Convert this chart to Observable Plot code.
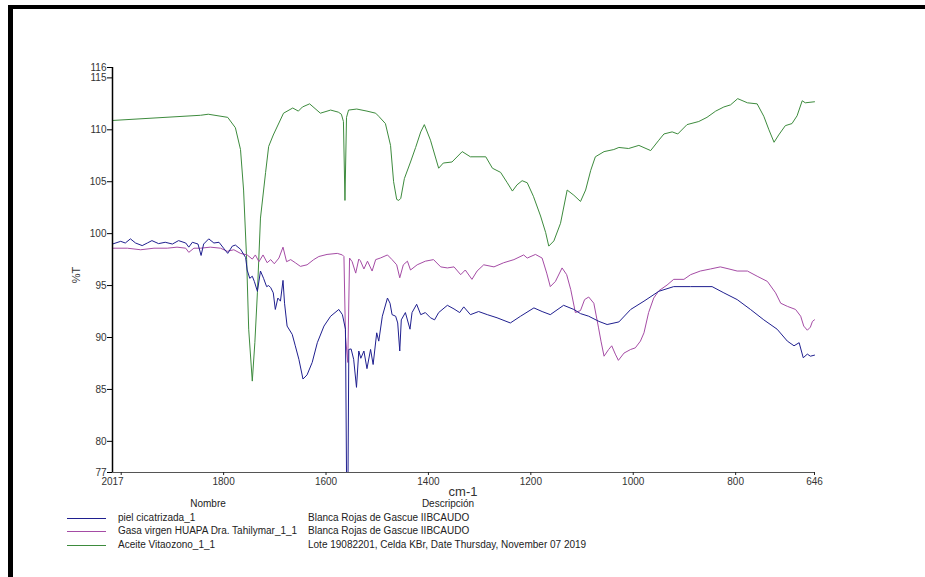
<!DOCTYPE html>
<html>
<head>
<meta charset="utf-8">
<script src="https://cdn.jsdelivr.net/npm/d3@7"></script>
<script src="https://cdn.jsdelivr.net/npm/@observablehq/plot@0.6"></script>
<style>
  html, body { margin: 0; padding: 0; background: #fff; }
  #wrap { position: relative; width: 925px; height: 577px; overflow: hidden; background: #fff;
          font-family: "Liberation Sans", Arial, sans-serif; color: #222; }
  #frame { position: absolute; left: 8px; top: 5px; width: 1000px; height: 700px;
           border-top: 4px solid #000; border-left: 5px solid #000; box-sizing: border-box; }
  #chart { position: absolute; left: 0; top: 0; }
  .lbl { position: absolute; white-space: nowrap; font-size: 10px; line-height: 12px; }
  #ylab { position: absolute; left: 66px; top: 269px; width: 20px; text-align: center;
          font-size: 11px; line-height: 12px; transform: rotate(-90deg); color: #333; }
  #xlab { position: absolute; left: 433px; top: 484px; width: 60px; text-align: center;
          font-size: 13px; line-height: 16px; color: #333; }
  .swatch { position: absolute; height: 0; border-top: 1px solid; }
</style>
</head>
<body>
<div id="wrap">
  <div id="frame"></div>
  <div id="chart"></div>
  <div id="ylab">%T</div>
  <div id="xlab">cm-1</div>
  <div id="legend"></div>
</div>
<script>
// Infrared spectra: wavenumber (cm-1) and transmittance (%T)
const pielCicatrizada = [
  [2017,99.0],[2001,99.26],[1992,99.1],[1982,99.5],[1972,99.1],[1959,98.85],[1949,99.1],[1940,99.33],
  [1927,99.04],[1914,99.17],[1900,99.0],[1888,99.33],[1874,99.1],[1868,98.7],[1861,99.17],[1850,99.0],
  [1844,97.9],[1839,99.0],[1829,99.5],[1819,99.1],[1809,99.17],[1800,98.6],[1792,98.1],[1783,98.8],
  [1777,98.9],[1767,98.5],[1757,97.7],[1754,96.5],[1749,95.7],[1744,95.9],[1740,95.4],[1734,94.45],
  [1728,96.4],[1722,95.7],[1716,94.9],[1712,95.0],[1708,94.8],[1703,94.3],[1699,92.7],[1694,93.8],
  [1689,93.5],[1684,95.5],[1681,93.3],[1676,91.1],[1666,90.3],[1660,89.2],[1653,87.9],[1645,86.0],
  [1637,86.4],[1627,87.6],[1617,89.5],[1604,91.1],[1591,92.05],[1575,92.7],[1568,92.2],[1562,90.8],
  [1560,77],[1557,77],[1555.5,88.85],[1551,88.9],[1546,87.9],[1540.5,85.2],[1536,88.7],[1532,88.0],
  [1526,88.7],[1520,87.0],[1513,88.85],[1508,87.4],[1501,90.45],[1497,89.65],[1490,92.05],[1480,93.8],
  [1475,93.3],[1471,92.2],[1464,92.05],[1460,91.4],[1456,88.7],[1453,91.7],[1445,92.4],[1436,90.8],
  [1432,92.4],[1423,93.2],[1415,92.2],[1406,92.4],[1396,91.9],[1388,91.7],[1380,92.4],[1363,93.1],
  [1350,92.75],[1339,92.4],[1331,92.95],[1318,92.2],[1302,92.5],[1285,92.2],[1266,91.9],[1240,91.4],
  [1220,92.05],[1194,92.85],[1178,92.5],[1162,92.2],[1136,93.1],[1116,92.7],[1103,92.3],[1087,92.05],
  [1067,91.55],[1051,91.25],[1028,91.5],[1005,92.7],[979,93.5],[950,94.45],[921,94.9],[888,94.9],
  [846,94.9],[823,94.3],[797,93.65],[771,92.7],[745,91.7],[719,90.8],[699,89.65],[686,89.2],
  [676,89.5],[668,88.05],[660,88.4],[654,88.2],[646,88.3]
];

const gasaVirgen = [
  [2017,98.6],[1988,98.6],[1962,98.45],[1936,98.6],[1910,98.6],[1891,98.7],[1874,98.6],[1868,98.2],
  [1858,98.6],[1845,98.6],[1826,98.7],[1806,98.6],[1793,98.3],[1780,98.45],[1767,98.1],[1754,97.95],
  [1744,97.55],[1738,97.95],[1731,97.3],[1723,97.95],[1715,97.2],[1708,97.5],[1701,97.1],[1692,97.65],
  [1684,98.7],[1677,97.3],[1669,97.5],[1660,97.2],[1650,96.85],[1637,97.0],[1624,97.5],[1614,97.8],
  [1598,98.0],[1578,98.1],[1568,97.95],[1565,97.8],[1562,90.1],[1557.5,87.6],[1554,97.65],[1549,97.3],
  [1542,96.2],[1536,97.55],[1533,97.4],[1526,96.6],[1519,97.35],[1510,96.4],[1503,97.5],[1494,97.65],
  [1480,97.95],[1471,97.5],[1462,97.0],[1456,95.75],[1449,97.0],[1441,97.35],[1435,96.5],[1422,97.0],
  [1406,97.35],[1390,97.5],[1376,96.8],[1363,96.7],[1350,96.8],[1337,96.05],[1328,96.5],[1315,95.6],
  [1305,96.4],[1292,97.0],[1272,96.8],[1253,97.2],[1233,97.5],[1214,97.95],[1207,97.65],[1191,98.0],
  [1178,97.65],[1169,96.2],[1162,94.9],[1152,95.4],[1139,96.7],[1130,96.05],[1122,94.6],[1113,92.4],
  [1103,92.6],[1095,93.65],[1087,93.9],[1077,93.3],[1068,91.0],[1063,89.65],[1057,88.2],[1048,88.85],
  [1042,89.2],[1035,88.4],[1029,87.8],[1018,88.5],[1005,88.85],[996,89.0],[986,89.65],[979,90.45],
  [970,92.4],[960,93.8],[950,94.5],[934,95.05],[921,95.6],[901,95.6],[888,96.05],[869,96.4],
  [849,96.6],[830,96.8],[813,96.6],[797,96.4],[777,96.4],[758,95.9],[738,95.4],[722,94.3],
  [712,93.3],[699,93.0],[683,92.7],[673,92.05],[667,91.1],[660,90.7],[654,91.0],[650,91.55],[646,91.7]
];

const aceiteVitaozono = [
  [2017,110.9],[1845,111.4],[1830,111.5],[1792,111.2],[1777,110.2],[1767,108.1],[1761,104.2],[1755,97.5],
  [1751,90.8],[1744,85.8],[1739,89.5],[1734,94.3],[1728,101.5],[1718,105.9],[1712,108.4],[1703,109.5],
  [1683,111.6],[1665,112.1],[1654,111.8],[1646,112.2],[1632,112.5],[1611,111.6],[1591,111.9],[1576,111.7],
  [1570,111.5],[1566,110.8],[1563,103.2],[1560,111.2],[1556,111.9],[1540,112.0],[1520,111.8],[1503,111.6],
  [1497,111.3],[1484,110.6],[1474,108.5],[1468,105.0],[1462,103.3],[1458,103.2],[1454,103.4],[1447,105.3],
  [1435,106.9],[1425,108.3],[1415,109.8],[1408,110.5],[1396,109.0],[1380,106.3],[1371,106.8],[1354,106.9],
  [1334,107.9],[1318,107.4],[1288,107.4],[1275,106.3],[1259,105.9],[1246,104.9],[1236,104.1],[1227,104.7],
  [1217,105.1],[1207,104.9],[1195,103.6],[1181,101.7],[1171,100.1],[1165,98.8],[1155,99.3],[1142,101.0],
  [1129,104.2],[1116,103.7],[1103,103.1],[1093,104.2],[1083,106.1],[1074,107.4],[1057,107.9],[1038,108.1],
  [1028,108.3],[1009,108.2],[989,108.5],[966,108.0],[950,109.0],[940,109.6],[924,109.8],[913,109.6],
  [895,110.5],[872,110.8],[856,111.2],[839,111.8],[823,112.2],[810,112.4],[796,113.0],[777,112.6],
  [758,112.5],[745,111.3],[735,110.0],[725,108.8],[716,109.5],[703,110.4],[690,110.6],[680,111.35],
  [670,112.8],[664,112.6],[646,112.7]
];

const seriesNames = ["piel cicatrizada_1", "Gasa virgen HUAPA Dra. Tahilymar_1_1", "Aceite Vitaozono_1_1"];
const seriesDescriptions = [
  "Blanca Rojas de Gascue IIBCAUDO",
  "Blanca Rojas de Gascue IIBCAUDO",
  "Lote 19082201, Celda KBr,  Date Thursday, November 07 2019"
];
const seriesColors = ["#1f1f8f", "#a54ca5", "#3d8b3d"];

const xDomain = [2017, 646];
const yDomain = [77, 116];
const xTickMarks = [2000, 1800, 1600, 1400, 1200, 1000, 800, 646];
const xTickLabels = [2017, 1800, 1600, 1400, 1200, 1000, 800, 646];
const yTicks = [77, 80, 85, 90, 95, 100, 105, 110, 115, 116];

const toRows = (pairs) => pairs.map(([wn, t]) => ({wn, t}));
const spectra = [pielCicatrizada, gasaVirgen, aceiteVitaozono].map(toRows);

const chart = Plot.plot({
  width: 925,
  height: 500,
  marginLeft: 112,
  marginRight: 111,
  marginTop: 67,
  marginBottom: 28,
  x: {domain: xDomain},
  y: {domain: yDomain},
  style: {fontFamily: "'Liberation Sans', Arial, sans-serif", fontSize: "10px", color: "#333", background: "transparent"},
  marks: [
    // green first, then purple, blue on top
    Plot.line(spectra[2], {x: "wn", y: "t", stroke: seriesColors[2], strokeWidth: 1}),
    Plot.line(spectra[1], {x: "wn", y: "t", stroke: seriesColors[1], strokeWidth: 1}),
    Plot.line(spectra[0], {x: "wn", y: "t", stroke: seriesColors[0], strokeWidth: 1}),
    Plot.ruleY([yDomain[0]], {stroke: "#555", strokeWidth: 1.2}),
    Plot.ruleX([xDomain[0]], {stroke: "#000", strokeWidth: 1.5}),
    Plot.axisY(yTicks, {tickSize: 5, tickPadding: 1, label: null, stroke: "#000"}),
    Plot.axisX(xTickMarks, {tickSize: 3, tickFormat: () => "", label: null, stroke: "#222"}),
    Plot.axisX(xTickLabels, {tickSize: 0, tickPadding: 5, tickFormat: d => String(d), label: null})
  ]
});
document.getElementById("chart").appendChild(chart);

// Legend table below the axis
const legend = document.getElementById("legend");
function addText(text, x, yc, anchor) {
  const el = document.createElement("div");
  el.className = "lbl";
  el.textContent = text;
  el.style.top = (yc - 6) + "px";
  if (anchor === "middle") {
    el.style.left = (x - 150) + "px";
    el.style.width = "300px";
    el.style.textAlign = "center";
  } else {
    el.style.left = x + "px";
  }
  legend.appendChild(el);
}
addText("Nombre", 208, 504, "middle");
addText("Descripción", 448, 504, "middle");
const rowY = [517.5, 531, 545];
seriesNames.forEach((name, i) => {
  const sw = document.createElement("div");
  sw.className = "swatch";
  sw.style.left = "67px";
  sw.style.width = "39px";
  sw.style.top = Math.round(rowY[i]) + "px";
  sw.style.borderColor = seriesColors[i];
  legend.appendChild(sw);
  addText(name, 118, rowY[i], "start");
  addText(seriesDescriptions[i], 308, rowY[i], "start");
});
</script>
</body>
</html>
